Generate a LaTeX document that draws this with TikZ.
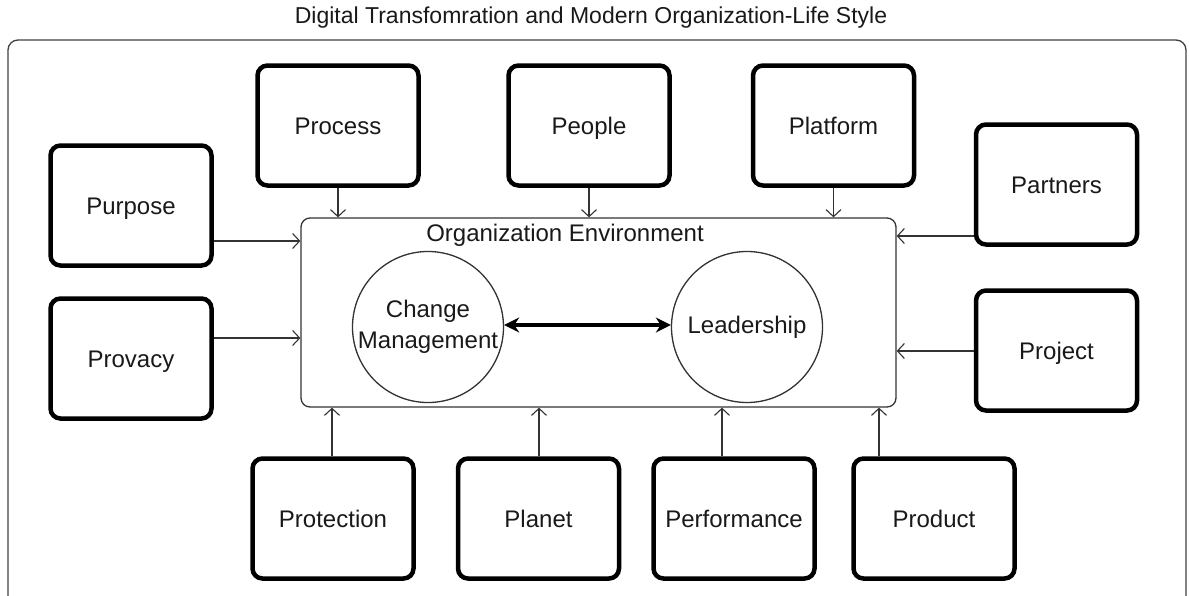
\documentclass[tikz,border=0pt]{standalone}
\usepackage{fontspec}
\setmainfont{Liberation Sans}
\usetikzlibrary{arrows.meta}
\begin{document}
\begin{tikzpicture}[x=1pt,y=-1pt,
  pbox/.style={draw=black, line width=4.5pt, rounded corners=10pt, minimum width=161pt, minimum height=120pt, inner sep=0pt, text height=17.5pt, text depth=0pt, font=\fontsize{24}{28}\selectfont, text=black!90},
  arr/.style={draw=black!80, line width=1.1pt, -{Straight Barb[length=7pt,width=15pt,line width=1.1pt]}},
  circ/.style={draw=black!80, line width=1.3pt, circle, minimum size=151pt, inner sep=0pt, align=center, font=\fontsize{24}{28}\selectfont, text=black!90}
]
\useasboundingbox (0,0) rectangle (1189,595);
% title
\node[font=\fontsize{23}{27}\selectfont, text=black!90] (title) at (591,18) {Digital Transfomration and Modern Organization-Life Style};
% outer frame
\draw[black!75, line width=1.3pt, rounded corners=10pt] (8,600) -- (8,40) -- (1186,40) -- (1186,600);
% environment
\node[draw=black!80, line width=1.3pt, rounded corners=9pt, minimum width=595pt, minimum height=189pt, inner sep=0pt] (env) at (598.5,312.5) {};
\node[font=\fontsize{24}{28}\selectfont, text=black!90] (envlabel) at (565,235) {Organization Environment};
% circles
\node[circ] (cm) at (428,327) {Change\\[3pt]Management};
\node[circ] (ld) at (747,327) {Leadership};
\draw[line width=4pt, {Stealth[length=15pt,width=15pt]}-{Stealth[length=15pt,width=15pt]}] (cm.east |- 0,325) -- (ld.west |- 0,325);
% boxes
\node[pbox] (process) at (338,125.5) {Process};
\node[pbox] (people) at (589,125.5) {People};
\node[pbox] (platform) at (833.5,125.5) {Platform};
\node[pbox] (partners) at (1056.5,184.5) {Partners};
\node[pbox] (purpose) at (131,205.5) {Purpose};
\node[pbox] (provacy) at (131,358.5) {Provacy};
\node[pbox] (project) at (1056.5,350.5) {Project};
\node[pbox] (protection) at (333,518.5) {Protection};
\node[pbox] (planet) at (538.5,518.5) {Planet};
\node[pbox] (performance) at (734,518.5) {Performance};
\node[pbox] (product) at (934,518.5) {Product};
% arrows
\draw[arr] (process.south) -- (process.south |- env.north);
\draw[arr] (people.south) -- (people.south |- env.north);
\draw[arr] (platform.south) -- (platform.south |- env.north);
\draw[arr] (purpose.east |- 0,241) -- (env.west |- 0,241);
\draw[arr] (provacy.east |- 0,338) -- (env.west |- 0,338);
\draw[arr] (partners.west |- 0,236) -- (env.east |- 0,236);
\draw[arr] (project.west |- 0,351) -- (env.east |- 0,351);
\draw[arr] (protection.north -| 332,0) -- (env.south -| 332,0);
\draw[arr] (planet.north -| 539,0) -- (env.south -| 539,0);
\draw[arr] (performance.north -| 722,0) -- (env.south -| 722,0);
\draw[arr] (product.north -| 879,0) -- (env.south -| 879,0);
\end{tikzpicture}
\end{document}
